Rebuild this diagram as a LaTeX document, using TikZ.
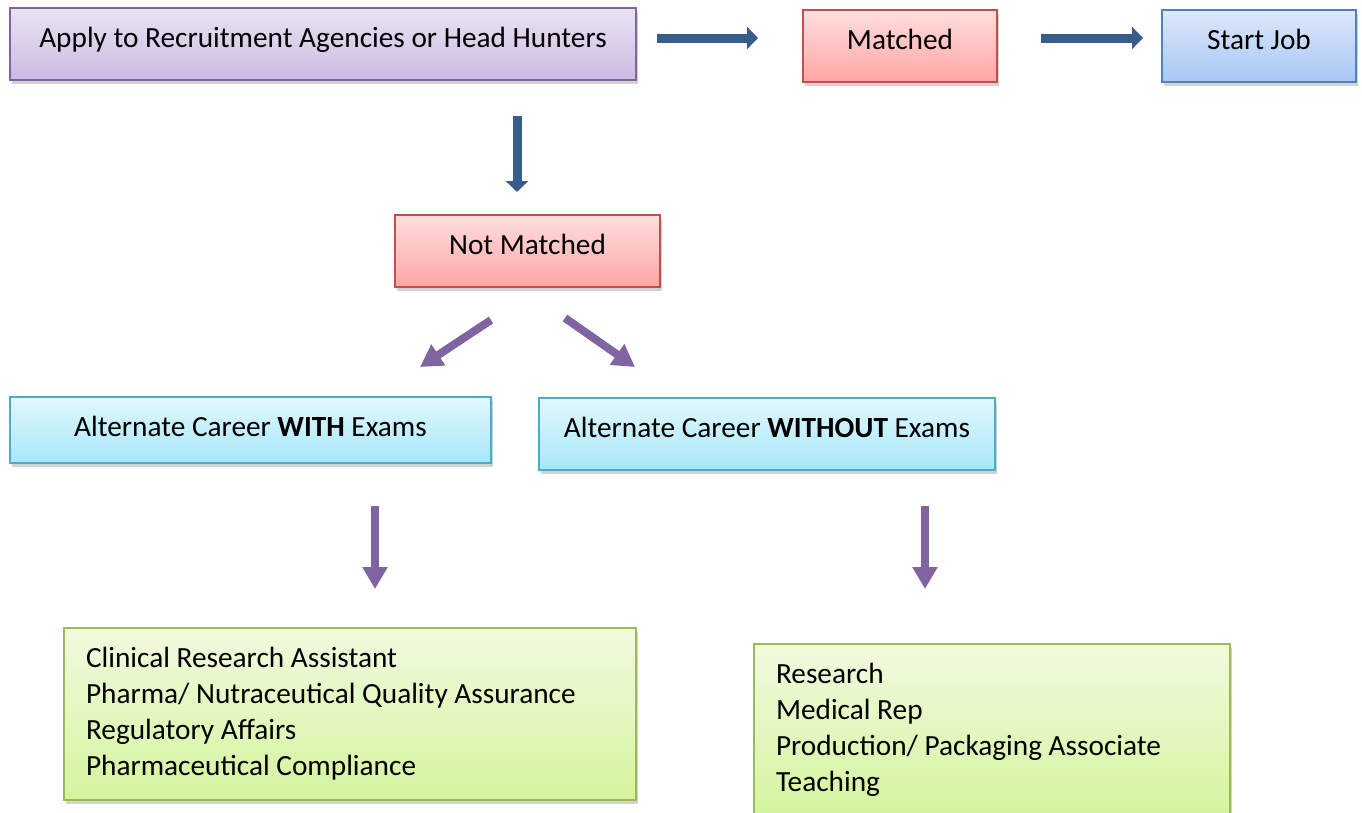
\documentclass[tikz,border=0pt]{standalone}
\usepackage{fontspec}
\setmainfont{Carlito}
\usetikzlibrary{positioning,arrows.meta,shadows}

\definecolor{PurpleLine}{HTML}{8064A2}
\definecolor{PurpleTop}{HTML}{EAE3F2}
\definecolor{PurpleBot}{HTML}{CCBAE2}
\definecolor{RedLine}{HTML}{C0504D}
\definecolor{RedTop}{HTML}{FFDEDE}
\definecolor{RedBot}{HTML}{FFA5A5}
\definecolor{BlueLine}{HTML}{4F81BD}
\definecolor{BlueTop}{HTML}{DDE8FA}
\definecolor{BlueBot}{HTML}{A7C7F5}
\definecolor{CyanLine}{HTML}{4BACC6}
\definecolor{CyanTop}{HTML}{E2F8FD}
\definecolor{CyanBot}{HTML}{A6E7FA}
\definecolor{GreenLine}{HTML}{9BBB59}
\definecolor{GreenTop}{HTML}{F2FADF}
\definecolor{GreenBot}{HTML}{D4F49E}
\definecolor{ArrowBlue}{HTML}{385D8A}
\definecolor{ArrowPurple}{HTML}{8064A2}

\begin{document}
\begin{tikzpicture}[x=1pt, y=-1pt, node distance = 0pt,
BoxStyle/.style={draw, line width=1.5pt, outer sep=0pt,
                font=\fontsize{29.3}{36}\selectfont,
                drop shadow={opacity=0.35, shadow xshift=2pt, shadow yshift=-4pt}},
OneLine/.style={BoxStyle, text height=22pt, text depth=15pt},
PurpleBox/.style={OneLine, draw=PurpleLine, top color=PurpleTop, bottom color=PurpleBot},
RedBox/.style={OneLine, draw=RedLine, top color=RedTop, bottom color=RedBot},
BlueBox/.style={OneLine, draw=BlueLine, top color=BlueTop, bottom color=BlueBot},
CyanBox/.style={OneLine, draw=CyanLine, top color=CyanTop, bottom color=CyanBot},
GreenBox/.style={BoxStyle, draw=GreenLine, top color=GreenTop, bottom color=GreenBot,
                align=flush left, inner xsep=22pt, minimum height=172pt},
BlueArrow/.style={draw=ArrowBlue, line width=9pt, -{Triangle[width=22pt,length=11pt]}},
PurpleArrow/.style={draw=ArrowPurple, line width=8pt, -{Triangle[width=24pt,length=22pt]}},]
\useasboundingbox (0,0) rectangle (1362,812);

\node [PurpleBox, minimum width=626pt, minimum height=72pt] (apply) at (323,44)
      {Apply to Recruitment Agencies or Head Hunters};
\node [RedBox, minimum width=194pt, minimum height=72pt, right=167pt of apply, yshift=-2pt] (matched) {Matched};
\node [BlueBox, minimum width=194pt, minimum height=72pt, right=165pt of matched] (start) {Start Job};
\node [RedBox, minimum width=265pt, minimum height=72pt] (notmatched) at (527.5,251) {Not Matched};
\node [CyanBox, minimum width=481pt, minimum height=66pt, text depth=9pt] (with) at (250.5,430)
      {Alternate Career \textbf{WITH} Exams};
\node [CyanBox, minimum width=456pt, minimum height=72pt] (without) at (767,434)
      {Alternate Career \textbf{WITHOUT} Exams};
\node [GreenBox, text width=528pt] (withlist) at (350,714)
      {Clinical Research Assistant\\ Pharma/ Nutraceutical Quality Assurance\\
       Regulatory Affairs\\ Pharmaceutical Compliance};
\node [GreenBox, text width=432pt] (withoutlist) at (992,730)
      {Research\\ Medical Rep\\ Production/ Packaging Associate\\ Teaching};

\draw [BlueArrow, shorten <=21pt, shorten >=45pt] ([yshift=6pt]apply.east) -- ([yshift=6pt]apply.east -| matched.west);
\draw [BlueArrow, shorten <=44pt, shorten >=19pt] ([yshift=8pt]matched.east) -- ([yshift=8pt]matched.east -| start.west);
\draw [BlueArrow, shorten <=36pt, shorten >=23pt] ([xshift=-10.5pt]notmatched.north |- apply.south) -- ([xshift=-10.5pt]notmatched.north);
\draw [PurpleArrow] ([shift={(-36.5,33)}]notmatched.south) -- ([shift={(-107.5,80)}]notmatched.south);
\draw [PurpleArrow] ([shift={(37.5,31)}]notmatched.south) -- ([shift={(107.5,80)}]notmatched.south);
\draw [PurpleArrow, shorten <=43pt, shorten >=39pt] ([xshift=124.5pt]with.south) -- ([xshift=124.5pt]with.south |- withlist.north);
\draw [PurpleArrow, shorten <=36pt, shorten >=55pt] ([xshift=158pt]without.south) -- ([xshift=158pt]without.south |- withoutlist.north);
\end{tikzpicture}
\end{document}
